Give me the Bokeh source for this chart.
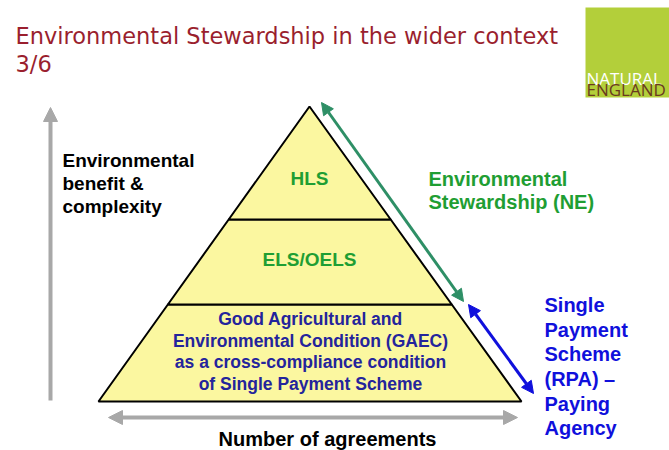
from bokeh.plotting import figure
from bokeh.models import Range1d, Arrow, NormalHead
from bokeh.core.properties import value
from bokeh.embed import file_html
from bokeh.resources import INLINE

# ---- diagram content ----
title_lines = ["Environmental Stewardship in the wider context", "3/6"]
logo_lines = ["NATURAL", "ENGLAND"]
y_axis_label = ["Environmental", "benefit &", "complexity"]
x_axis_label = "Number of agreements"

tiers = ["GAEC", "ELS/OELS", "HLS"]
tier_bounds = [401, 304, 219, 106]          # y of tier edges (bottom -> apex)
pyramid_apex_x = 309
pyramid_base = [98, 521]                    # left / right x of the base
tier_text = {
    "HLS": ["HLS"],
    "ELS/OELS": ["ELS/OELS"],
    "GAEC": ["Good Agricultural and", "Environmental Condition (GAEC)",
             "as a cross-compliance condition", "of Single Payment Scheme"],
}
es_label = ["Environmental", "Stewardship (NE)"]
sps_label = ["Single", "Payment", "Scheme", "(RPA) \u2013", "Paying", "Agency"]

# ---- figure in page-pixel coordinates ----
W, H = 669, 450
p = figure(width=W, height=H, output_backend="svg", toolbar_location=None,
           x_range=Range1d(0, W), y_range=Range1d(H, 0),
           min_border=0)
p.axis.visible = False
p.grid.visible = False
p.outline_line_color = None
p.background_fill_color = "white"

BOLD = value("Liberation Sans")
dy = -8  # baseline correction

def ys_(lst):
    return [v + dy for v in lst]

# title
p.text(x=[15, 15], y=ys_([43, 71]), text=title_lines, text_font=value("DejaVu Sans"),
       text_font_size="22.5px", text_color="#9A1F2E", text_baseline="alphabetic",
       text_align="left")

# logo
p.quad(left=[585], right=[669], top=[7], bottom=[97], fill_color="#B3CF3A",
       line_color=None)
p.text(x=[586, 586], y=ys_([86, 97]), text=logo_lines, text_font=value("Open Sans"),
       text_font_size="17px", text_color=["white", "#6A3A1E"],
       text_baseline="alphabetic", text_align="left")

# axes arrows (grey)
grey = "#A8A8A8"
p.add_layout(Arrow(x_start=50, y_start=400, x_end=50, y_end=107,
                   line_color=grey, line_width=4,
                   end=NormalHead(size=14, fill_color=grey, line_color=grey)))
p.add_layout(Arrow(x_start=108, y_start=417, x_end=517, y_end=417,
                   line_color=grey, line_width=4,
                   start=NormalHead(size=14, fill_color=grey, line_color=grey),
                   end=NormalHead(size=14, fill_color=grey, line_color=grey)))

p.text(x=[62] * 3, y=ys_([168, 191, 214]), text=y_axis_label, text_font=BOLD,
       text_font_style="bold", text_font_size="19px", text_color="black",
       text_baseline="alphabetic", text_align="left")
p.text(x=[327], y=ys_([446]), text=[x_axis_label], text_font=BOLD,
       text_font_style="bold", text_font_size="20px", text_color="black",
       text_baseline="alphabetic", text_align="center")

# pyramid tiers
def edge_x(y, side):
    base_x = pyramid_base[0] if side == 0 else pyramid_base[1]
    f = (y - tier_bounds[-1]) / (tier_bounds[0] - tier_bounds[-1])
    return pyramid_apex_x + (base_x - pyramid_apex_x) * f

xs, ys = [], []
for i, t in enumerate(tiers):
    yb, yt = tier_bounds[i], tier_bounds[i + 1]
    xs.append([edge_x(yb, 0), edge_x(yb, 1), edge_x(yt, 1), edge_x(yt, 0)])
    ys.append([yb, yb, yt, yt])
p.patches(xs=xs, ys=ys, fill_color="#FBF7A0", line_color="black", line_width=2)

green = "#1F9E33"
p.text(x=[309], y=ys_([186]), text=tier_text["HLS"], text_font=BOLD,
       text_font_style="bold", text_font_size="19px", text_color=green,
       text_align="center", text_baseline="alphabetic")
p.text(x=[309], y=ys_([267]), text=tier_text["ELS/OELS"], text_font=BOLD,
       text_font_style="bold", text_font_size="19px", text_color=green,
       text_align="center", text_baseline="alphabetic")
p.text(x=[310] * 4, y=ys_([326, 348, 369, 391]), text=tier_text["GAEC"], text_font=BOLD,
       text_font_style="bold", text_font_size="17.5px", text_color="#24249C",
       text_align="center", text_baseline="alphabetic")

# side arrows
teal = "#2E8F66"
p.add_layout(Arrow(x_start=463, y_start=301, x_end=321, y_end=102,
                   line_color=teal, line_width=3,
                   start=NormalHead(size=12, fill_color=teal, line_color=teal),
                   end=NormalHead(size=12, fill_color=teal, line_color=teal)))
blue = "#1010DC"
p.add_layout(Arrow(x_start=468, y_start=304, x_end=533, y_end=393,
                   line_color=blue, line_width=3,
                   start=NormalHead(size=12, fill_color=blue, line_color=blue),
                   end=NormalHead(size=12, fill_color=blue, line_color=blue)))

p.text(x=[428, 428], y=ys_([186, 209]), text=es_label, text_font=BOLD,
       text_font_style="bold", text_font_size="20px", text_color=green,
       text_align="left", text_baseline="alphabetic")
p.text(x=[544] * 6, y=ys_([312, 337, 361, 386, 411, 435]), text=sps_label, text_font=BOLD,
       text_font_style="bold", text_font_size="20px", text_color=blue,
       text_align="left", text_baseline="alphabetic")

open("out.html", "w").write(file_html(p, INLINE))
